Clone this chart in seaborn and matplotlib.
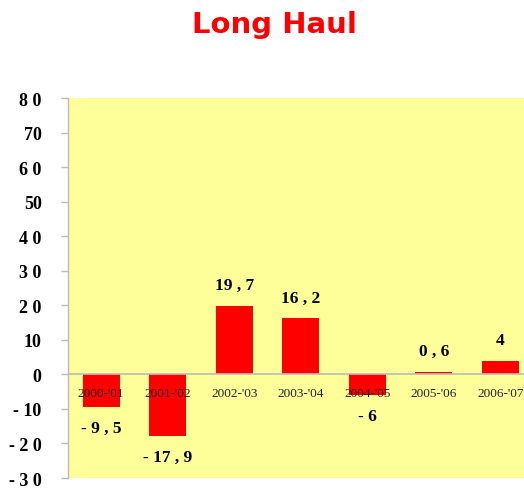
import matplotlib
matplotlib.use("Agg")
import matplotlib.pyplot as plt
import seaborn as sns
import pandas as pd

categories = ["2000-'01", "2001-'02", "2002-'03", "2003-'04", "2004-'05", "2005-'06", "2006-'07"]
values = [-9.5, -17.9, 19.7, 16.2, -6, 0.6, 4]
value_labels = ["- 9 , 5", "- 17 , 9", "19 , 7", "16 , 2", "- 6", "0 , 6", "4"]
y_ticks = [80, 70, 60, 50, 40, 30, 20, 10, 0, -10, -20, -30]
y_tick_labels = ["8 0", "70", "6 0", "50", "4 0", "3 0", "2 0", "10", "0", "- 10", "- 2 0", "- 3 0"]

df = pd.DataFrame({"cat": categories, "val": values})

sns.set_theme(style="white")
plt.rcParams["font.family"] = ["DejaVu Sans"]

W, H = 524, 489
fig = plt.figure(figsize=(W / 100, H / 100), dpi=100)
fig.patch.set_facecolor("white")
left, top, bottom = 68, 99, 479
width = 7 * 66.5
ax = fig.add_axes([left / W, 1 - bottom / H, width / W, (bottom - top) / H])
ax.set_facecolor("#FFFF99")

sns.barplot(data=df, x="cat", y="val", color="#FF0000", saturation=1, width=0.56,
            linewidth=0, edgecolor="none", ax=ax)

ax.set_ylim(-30, 80)
ax.set_xlim(-0.5, 6.5)
ax.set_yticks(y_ticks)
ax.set_yticklabels(y_tick_labels, fontfamily="Liberation Serif", fontweight="bold", fontsize=13, color="black")
ax.tick_params(axis="y", length=5, width=1, color="#BBBBBB", pad=14, left=True)
ax.tick_params(axis="x", length=0, labelbottom=False)
ax.set_xlabel("")
ax.set_ylabel("")

for s in ["top", "right", "bottom"]:
    ax.spines[s].set_visible(False)
ax.spines["left"].set_color("#BBBBBB")
ax.spines["left"].set_linewidth(1)
ax.axhline(0, color="#BBBBBB", lw=1.2, zorder=1)

for i, c in enumerate(categories):
    ax.annotate(c, (i, 0), xytext=(0, -19), textcoords="offset pixels",
                ha="center", va="center", fontfamily="Liberation Serif",
                fontsize=9.5, color="#222222", zorder=5)

for i, (v, lab) in enumerate(zip(values, value_labels)):
    off = 21 if v >= 0 else -21
    ax.annotate(lab, (i, v), xytext=(0, off), textcoords="offset pixels",
                ha="center", va="center", fontfamily="Liberation Serif",
                fontweight="bold", fontsize=12.5, color="black")

fig.text(275 / W, 1 - 25 / H, "Long Haul", ha="center", va="center",
         fontfamily="DejaVu Sans", fontweight="bold", fontsize=21, color="#FF0000")

fig.savefig("out.png", dpi=100, facecolor="white")
